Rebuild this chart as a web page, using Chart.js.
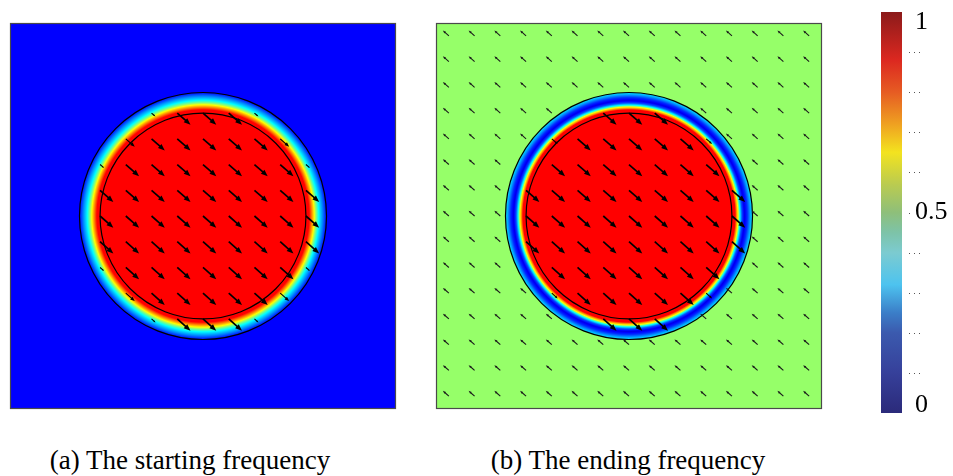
<!DOCTYPE html>
<html>
<head>
<meta charset="utf-8">
<script src="https://cdn.jsdelivr.net/npm/chart.js@4.4.1/dist/chart.umd.min.js"></script>
<style>
  html, body { margin: 0; padding: 0; background: #fff; width: 953px; height: 476px; overflow: hidden; position: relative; }
  canvas { position: absolute; }
  .cap { position: absolute; font-family: "Liberation Serif", "Times New Roman", serif; font-size: 27px; line-height: 27px;
         white-space: nowrap; color: #000; transform: translateX(-50%); }
</style>
</head>
<body>
<canvas id="panelA" width="390" height="390" style="left:8px;top:21px"></canvas>
<canvas id="panelB" width="390" height="390" style="left:434px;top:21px"></canvas>
<canvas id="colorbar" width="93" height="425" style="left:860px;top:0px"></canvas>
<div class="cap" style="left:190px;top:447px">(a) The starting frequency</div>
<div class="cap" style="left:628px;top:447px">(b) The ending frequency</div>
<script>
// Square domain and the two circle boundaries (domain units)
const domainMin = -1.5;
const domainMax = 1.5;
const innerRadius = 0.8;
const outerRadius = 0.96;

// Arrow sample grid (same along x and y)
const gridCoords = [-1.4, -1.2, -1.0, -0.8, -0.6, -0.4, -0.2, 0, 0.2, 0.4, 0.6, 0.8, 1.0, 1.2, 1.4];

// Radial field profile, starting frequency
const startRadius = [0, 0.825, 0.845, 0.864, 0.88, 0.9, 0.925, 0.95, 0.96, 2.2];
const startValue  = [1, 1, 0.83, 0.67, 0.5, 0.33, 0.2, 0.06, 0, 0];
const startArrowRadius = [0, 0.83, 0.85, 0.894, 0.96, 2.2];
const startArrowScale  = [1, 1, 0.65, 0.3, 0, 0];

// Radial field profile, ending frequency
const endRadius = [0, 0.825, 0.835, 0.847, 0.862, 0.878, 0.897, 0.92, 0.944, 0.96, 0.961, 2.2];
const endValue  = [1, 1, 0.83, 0.67, 0.33, 0.1, -0.03, 0.06, 0.22, 0.3, 0.53, 0.53];
const endArrowRadius = [0, 0.83, 0.85, 0.89, 0.96, 0.961, 2.2];
const endArrowScale  = [1, 1, 0.4, 0, 0, -0.45, -0.45];

// Arrow vector at unit scale (domain units, y up)
const arrowVector = [0.103, -0.091];

// Colour bar
const colorbarStops  = [0, 0.1, 0.2, 0.25, 0.32, 0.4, 0.45, 0.5, 0.57, 0.65, 0.72, 0.8, 0.88, 1];
const colorbarColors = ['#2b2a7a', '#36409a', '#3b5aae', '#3b7ec8', '#4dc3ef', '#7ccbd0', '#7dc3a8', '#8ebf7a',
                        '#bacb50', '#f3e31f', '#efa121', '#e65c23', '#dc2820', '#8b1a1a'];
const colorbarLabelValues = [0, 0.5, 1];
const colorbarLabels = ['0', '0.5', '1'];
const colorbarMinorTicks = [0.1, 0.2, 0.3, 0.4, 0.5, 0.6, 0.7, 0.8, 0.9];

function interp(xs, ys, x) {
  if (x <= xs[0]) return ys[0];
  for (let i = 1; i < xs.length; i++) {
    if (x <= xs[i]) {
      const t = (x - xs[i - 1]) / (xs[i] - xs[i - 1]);
      return ys[i - 1] + t * (ys[i] - ys[i - 1]);
    }
  }
  return ys[ys.length - 1];
}

// jet colour map over the blue..red part of its range
function jet(v) {
  const t = 0.125 + 0.75 * v;
  const c = (a) => Math.max(0, Math.min(1, a)) * 255;
  return [c(1.5 - Math.abs(4 * t - 3)), c(1.5 - Math.abs(4 * t - 2)), c(1.5 - Math.abs(4 * t - 1))];
}

function buildArrows(arrowR, arrowS) {
  const pts = [];
  for (const gy of gridCoords) {
    for (const gx of gridCoords) {
      const s = interp(arrowR, arrowS, Math.hypot(gx, gy));
      pts.push({ x: gx, y: gy, u: s * arrowVector[0], v: s * arrowVector[1] });
    }
  }
  return pts;
}

function drawArrow(ctx, x0, y0, x1, y1) {
  const dx = x1 - x0, dy = y1 - y0, len = Math.hypot(dx, dy);
  if (len < 2) return;
  const ux = dx / len, uy = dy / len;
  const hl = Math.min(7, len * 0.38), hw = hl * 0.4;
  ctx.lineWidth = len > 12 ? 1.7 : 1.1;
  ctx.beginPath();
  ctx.moveTo(x0, y0);
  ctx.lineTo(x1 - ux * hl * 0.8, y1 - uy * hl * 0.8);
  ctx.stroke();
  ctx.beginPath();
  ctx.moveTo(x1, y1);
  ctx.lineTo(x1 - ux * hl - uy * hw, y1 - uy * hl + ux * hw);
  ctx.lineTo(x1 - ux * hl + uy * hw, y1 - uy * hl - ux * hw);
  ctx.closePath();
  ctx.fill();
}

function makeFieldPlugin(radius, value) {
  return {
    id: 'field',
    beforeDatasetsDraw(chart) {
      const { ctx, chartArea: a, scales: { x, y } } = chart;
      const w = Math.round(a.right - a.left), h = Math.round(a.bottom - a.top);
      const img = ctx.createImageData(w, h);
      for (let j = 0; j < h; j++) {
        const yv = y.getValueForPixel(a.top + j + 0.5);
        for (let i = 0; i < w; i++) {
          const xv = x.getValueForPixel(a.left + i + 0.5);
          const c = jet(interp(radius, value, Math.hypot(xv, yv)));
          const k = (j * w + i) * 4;
          img.data[k] = c[0]; img.data[k + 1] = c[1]; img.data[k + 2] = c[2]; img.data[k + 3] = 255;
        }
      }
      ctx.putImageData(img, Math.round(a.left), Math.round(a.top));
      const cx = x.getPixelForValue(0), cy = y.getPixelForValue(0);
      ctx.save();
      ctx.strokeStyle = '#000';
      ctx.lineWidth = 1.2;
      for (const R of [innerRadius, outerRadius]) {
        ctx.beginPath();
        ctx.arc(cx, cy, x.getPixelForValue(R) - cx, 0, Math.PI * 2);
        ctx.stroke();
      }
      ctx.restore();
    },
    afterDatasetsDraw(chart) {
      const { ctx, chartArea: a, scales: { x, y } } = chart;
      const meta = chart.getDatasetMeta(0);
      const data = chart.data.datasets[0].data;
      ctx.save();
      meta.data.forEach((el, i) => {
        const d = data[i];
        const outward = d.u < 0;
        ctx.strokeStyle = outward ? '#1a1a1a' : '#000';
        ctx.fillStyle = outward ? '#1a1a1a' : '#000';
        drawArrow(ctx, el.x, el.y, x.getPixelForValue(d.x + d.u), y.getPixelForValue(d.y + d.v));
      });
      ctx.strokeStyle = '#4a4a4a';
      ctx.lineWidth = 1.2;
      ctx.strokeRect(a.left + 0.5, a.top + 0.5, a.right - a.left - 1, a.bottom - a.top - 1);
      ctx.restore();
    }
  };
}

function fieldChart(id, radius, value, arrowR, arrowS) {
  return new Chart(document.getElementById(id), {
    type: 'scatter',
    data: { datasets: [{ data: buildArrows(arrowR, arrowS), pointRadius: 0, pointHoverRadius: 0 }] },
    options: {
      responsive: false, animation: false, events: [],
      layout: { padding: 2 },
      plugins: { legend: { display: false }, tooltip: { enabled: false } },
      scales: {
        x: { type: 'linear', min: domainMin, max: domainMax, display: false },
        y: { type: 'linear', min: domainMin, max: domainMax, display: false }
      }
    },
    plugins: [makeFieldPlugin(radius, value)]
  });
}

fieldChart('panelA', startRadius, startValue, startArrowRadius, startArrowScale);
fieldChart('panelB', endRadius, endValue, endArrowRadius, endArrowScale);

const colorbarPlugin = {
  id: 'colorbar',
  beforeDatasetsDraw(chart) {
    const { ctx, chartArea: a, scales: { y } } = chart;
    const y0 = y.getPixelForValue(0), y1 = y.getPixelForValue(1);
    const g = ctx.createLinearGradient(0, y0, 0, y1);
    colorbarStops.forEach((s, i) => g.addColorStop(s, colorbarColors[i]));
    ctx.save();
    ctx.fillStyle = g;
    ctx.fillRect(a.left, y1, a.right - a.left, y0 - y1);
    // dotted minor ticks
    ctx.strokeStyle = '#555';
    ctx.lineWidth = 1;
    ctx.setLineDash([1, 4]);
    for (const v of colorbarMinorTicks) {
      const py = Math.round(y.getPixelForValue(v)) + 0.5;
      ctx.beginPath();
      ctx.moveTo(a.right + 7, py);
      ctx.lineTo(v === 0.5 ? a.right + 10 : a.right + 21, py);
      ctx.stroke();
    }
    ctx.setLineDash([]);
    // value labels
    ctx.fillStyle = '#000';
    ctx.font = '26px "Liberation Serif", "Times New Roman", serif';
    ctx.textAlign = 'left';
    ctx.textBaseline = 'middle';
    colorbarLabelValues.forEach((v, i) => {
      const py = Math.min(Math.max(y.getPixelForValue(v), a.top + 10), a.bottom - 8);
      ctx.fillText(colorbarLabels[i], a.right + 13, py);
    });
    ctx.restore();
  }
};

new Chart(document.getElementById('colorbar'), {
  type: 'scatter',
  data: { datasets: [{ data: [], pointRadius: 0 }] },
  options: {
    responsive: false, animation: false, events: [],
    layout: { padding: { left: 21, right: 51, top: 12, bottom: 12 } },
    plugins: { legend: { display: false }, tooltip: { enabled: false } },
    scales: {
      x: { type: 'linear', min: 0, max: 1, display: false },
      y: { type: 'linear', min: 0, max: 1, display: false }
    }
  },
  plugins: [colorbarPlugin]
});
</script>
</body>
</html>
